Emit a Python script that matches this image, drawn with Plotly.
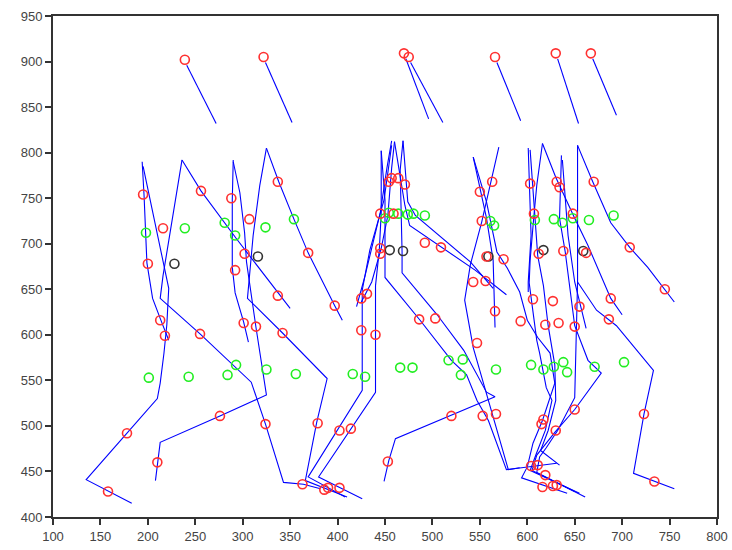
import plotly.graph_objects as go

# ---- keypoint markers (data units) ----
red_x = [239, 322, 470, 475, 566, 630, 667,
         195, 216, 256, 288, 307, 337, 200, 302, 369,
         445, 454, 457, 464, 471, 445, 445, 292, 337, 397, 425, 431,
         213, 218, 255, 301, 314, 342, 425, 440,
         276, 324, 379, 402, 414, 178, 210, 453, 158, 363, 386, 390, 402,
         459, 492, 509, 550, 563, 603, 631, 634, 670, 552, 607, 648,
         557, 575, 612, 638, 662, 708,
         543, 556, 566, 606, 627, 655, 688, 745,
         486, 503, 593, 619, 633, 650, 686, 547,
         520, 553, 567, 617, 615, 630, 650, 723,
         604, 611, 619, 616, 627, 631, 734]
red_y = [902, 905, 909, 905, 905, 909, 909,
         754, 717, 758, 750, 727, 768, 678, 689, 690,
         733, 768, 772, 772, 765, 695, 689, 671, 643, 632, 640, 645,
         616, 599, 601, 613, 609, 602, 605, 600,
         511, 502, 503, 495, 497, 492, 460, 461, 428, 436, 430, 432, 432,
         733, 701, 696, 757, 768, 766, 768, 762, 768, 725, 733, 733,
         686, 683, 689, 692, 690, 696,
         658, 659, 626, 639, 637, 631, 640, 650,
         617, 618, 615, 611, 613, 609, 617, 591,
         511, 511, 513, 507, 502, 495, 518, 513,
         456, 457, 446, 433, 434, 435, 439]

green_x = [198, 239, 281, 292, 324, 354,
           450, 454, 464, 474, 480, 492,
           561, 565, 608, 628, 637, 648, 665, 691,
           201, 243, 284, 293, 325, 356, 416, 429,
           466, 479, 517, 532, 530, 567, 604, 617, 628, 638, 642, 671, 702]
green_y = [712, 717, 723, 709, 718, 727,
           728, 734, 733, 732, 733, 731,
           725, 720, 726, 727, 723, 728, 726, 731,
           553, 554, 556, 567, 562, 557, 557, 554,
           564, 564, 572, 573, 556, 562, 567, 562, 565, 570, 559, 565, 570]

black_x = [228, 316, 455, 469, 559, 617, 659]
black_y = [678, 686, 693, 692, 686, 693, 692]

# ---- skeleton strokes (data units), one list per figure ----
head_strokes = [
    [(241, 896), (272, 832)],
    [(324, 899), (352, 833)],
    [(472, 903), (496, 837)],
    [(477, 899), (511, 833)],
    [(568, 899), (593, 835)],
    [(632, 903), (654, 832)],
    [(669, 903), (694, 841)],
]
fig1_strokes = [
    [(194, 790), (196, 753), (199, 679), (205, 640), (213, 618), (222, 594)],
    [(195, 785), (216, 680), (222, 651), (220, 611), (217, 580), (213, 547), (210, 530),
     (178, 492), (135, 441), (183, 415)],
    [(236, 792), (216, 665), (213, 640), (255, 601), (309, 548), (324, 502), (343, 438),
     (364, 436), (382, 431)],
    [(236, 792), (256, 758), (293, 706), (329, 658), (350, 629)],
]
fig2_strokes = [
    [(290, 792), (289, 748), (289, 674), (292, 646), (301, 614), (306, 592)],
    [(290, 790), (297, 756), (302, 712), (304, 680), (314, 608), (325, 534), (276, 511),
     (213, 482), (208, 440)],
    [(325, 805), (318, 764), (311, 709), (306, 654), (305, 640), (342, 602), (389, 552),
     (378, 504), (366, 440), (410, 422)],
    [(325, 805), (338, 768), (354, 727), (369, 690), (397, 632), (405, 616)],
]
fig34_strokes = [
    [(457, 813), (452, 783), (445, 734), (439, 709), (429, 665), (420, 631)],
    [(460, 812), (457, 783), (453, 731), (446, 695), (436, 658), (425, 636)],
    [(446, 802), (446, 734), (444, 693), (440, 654), (440, 537), (380, 444), (426, 420)],
    [(457, 808), (449, 748), (434, 693), (426, 649), (426, 539), (369, 444), (408, 422)],
    [(469, 813), (466, 781), (468, 691), (468, 668), (505, 622), (533, 583), (557, 537),
     (566, 532), (461, 486), (454, 462), (449, 439)],
    [(446, 802), (450, 748), (450, 663), (487, 616), (520, 572), (536, 556), (547, 528),
     (559, 506), (578, 452), (631, 459)],
    [(469, 813), (474, 746), (482, 731), (540, 680), (564, 651)],
    [(460, 812), (471, 742), (476, 720), (545, 671), (578, 644)],
]
fig5_strokes = [
    [(543, 795), (557, 728), (564, 682), (566, 608)],
    [(543, 795), (557, 746), (568, 691), (579, 673), (592, 647), (600, 616), (611, 597),
     (624, 580), (629, 547), (616, 506), (606, 481), (600, 455), (594, 443), (642, 426)],
    [(570, 806), (552, 724), (540, 677), (534, 638), (543, 586), (557, 536), (580, 452),
     (592, 454)],
]
fig6_strokes = [
    [(616, 810), (630, 773), (650, 728), (664, 698), (688, 640), (700, 622)],
    [(601, 805), (603, 746), (604, 709), (601, 658), (601, 647)],
    [(616, 810), (610, 764), (607, 731), (603, 682), (602, 657), (604, 641), (610, 594),
     (613, 580), (620, 542), (626, 528), (619, 495), (609, 468), (603, 451), (655, 426)],
    [(603, 803), (608, 728), (611, 687), (617, 654), (622, 610), (629, 567), (630, 528),
     (622, 495), (614, 473), (634, 457)],
]
fig7_strokes = [
    [(653, 808), (653, 658), (650, 531), (632, 495), (620, 476), (613, 466), (610, 449),
     (661, 422)],
    [(653, 808), (669, 768), (688, 723), (708, 696), (727, 674), (745, 650), (755, 636)],
    [(636, 797), (634, 728), (640, 691), (645, 647), (650, 610), (664, 572), (678, 558),
     (650, 518), (629, 493), (610, 468), (605, 451), (650, 428)],
    [(637, 792), (643, 709), (650, 658), (662, 607)],
    [(653, 658), (673, 627), (694, 610), (733, 561), (723, 513), (712, 448), (755, 431)],
]

x_ticks = list(range(100, 801, 50))
y_ticks = list(range(400, 951, 50))

all_strokes = (head_strokes + fig1_strokes + fig2_strokes + fig34_strokes
               + fig5_strokes + fig6_strokes + fig7_strokes)
lx, ly = [], []
for s in all_strokes:
    for (a, b) in s:
        lx.append(a)
        ly.append(b)
    lx.append(None)
    ly.append(None)

fig = go.Figure()
fig.add_trace(go.Scatter(x=lx, y=ly, mode="lines",
                         line=dict(color="#0000ff", width=1.1),
                         hoverinfo="skip", showlegend=False))
fig.add_trace(go.Scatter(x=green_x, y=green_y, mode="markers",
                         marker=dict(symbol="circle-open", size=9,
                                     color="#22ee22", line=dict(width=1.6)),
                         showlegend=False))
fig.add_trace(go.Scatter(x=black_x, y=black_y, mode="markers",
                         marker=dict(symbol="circle-open", size=9,
                                     color="#333333", line=dict(width=1.6)),
                         showlegend=False))
fig.add_trace(go.Scatter(x=red_x, y=red_y, mode="markers",
                         marker=dict(symbol="circle-open", size=9,
                                     color="#ff3030", line=dict(width=1.6)),
                         showlegend=False))

axis_common = dict(showgrid=False, zeroline=False, showline=True, mirror=True,
                   automargin=False,
                   linecolor="#333333", linewidth=2, ticks="outside",
                   ticklen=6, tickwidth=2, tickcolor="#333333",
                   tickfont=dict(family="Liberation Sans, Arial, sans-serif",
                                 size=13, color="#444444"))
fig.update_layout(
    template="none",
    width=732, height=550,
    margin=dict(l=53, r=15, t=16, b=33, autoexpand=False),
    paper_bgcolor="white", plot_bgcolor="white",
    xaxis=dict(range=[100, 800], tickvals=x_ticks, **axis_common),
    yaxis=dict(range=[400, 950], tickvals=y_ticks, **axis_common),
)
fig.write_html(
    "out.html",
    config={"displayModeBar": False, "staticPlot": True},
    post_script="document.body.style.margin='0';document.body.style.overflow='hidden';",
)
